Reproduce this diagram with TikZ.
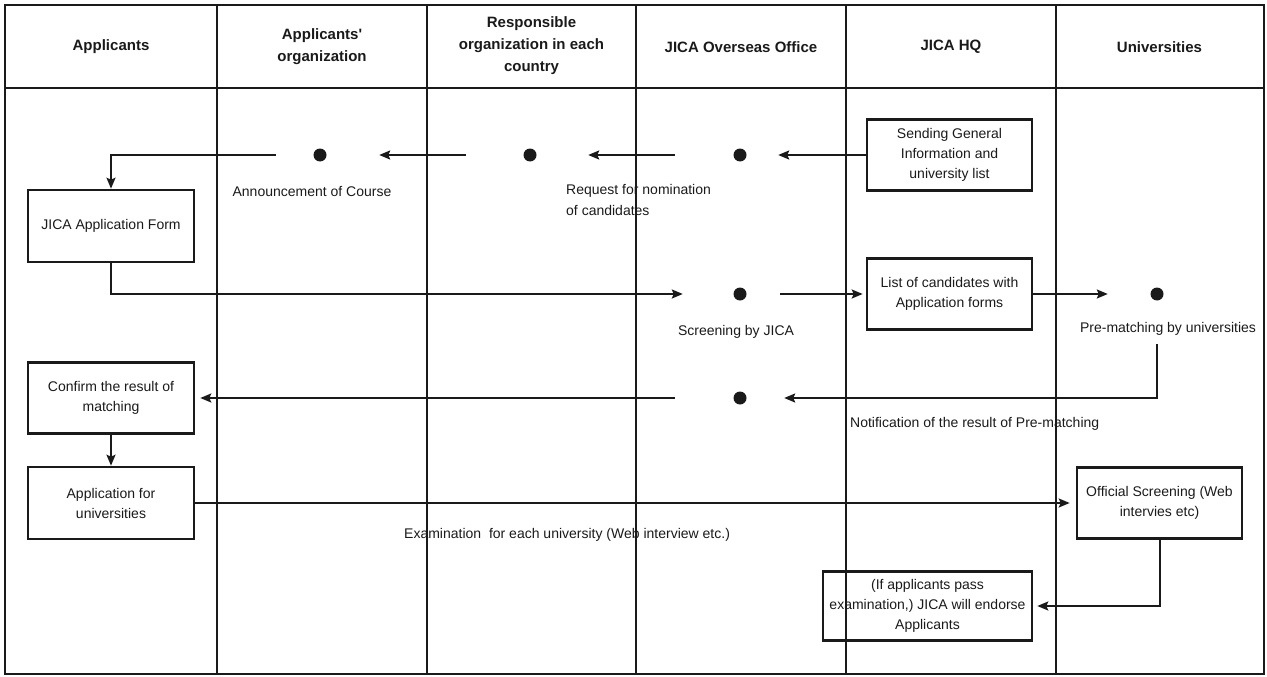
\documentclass[tikz,border=0pt]{standalone}
\usepackage{fontspec}
\setmainfont{Liberation Sans}[Ligatures=TeXOff]
\usetikzlibrary{arrows.meta}
\definecolor{ink}{HTML}{1A1A1A}
\begin{document}
\begin{tikzpicture}[x=1pt,y=-1pt,
  gridline/.style={draw=ink, line width=1.3pt},
  box/.style={draw=ink, line width=2.6pt, align=center, inner sep=0pt, text=ink,
    font=\fontsize{14}{20}\selectfont},
  dot/.style={circle, fill=ink, minimum size=13pt, inner sep=0pt},
  conn/.style={draw=ink, line width=2pt},
  arr/.style={conn, -{Stealth[length=11pt,width=9pt,inset=2pt]}},
  lbl/.style={inner sep=0pt, text=ink, font=\fontsize{14}{21}\selectfont},
  hdr/.style={align=center, text=ink, font=\bfseries\fontsize{15}{22}\selectfont}]
\useasboundingbox (0,0) rectangle (1267,677);
% grid
\draw[gridline] (5,5) rectangle (1264,674);
\draw[gridline] (5,88) -- (1264,88);
\foreach \xx in {217,427,636,846,1056} \draw[gridline] (\xx,5) -- (\xx,674);
% headers
\node[hdr] (h1) at (111,47) {Applicants};
\node[hdr] (h2) at (322,47) {Applicants'\\organization};
\node[hdr] (h3) at (531.5,46) {Responsible\\organization in each\\country};
\node[hdr] (h4) at (741,47) {JICA Overseas Office};
\node[hdr] (h5) at (951,47) {JICA HQ};
\node[hdr] (h6) at (1159.5,47) {Universities};
% boxes
\node[box, minimum width=165pt, minimum height=71pt] (sgi) at (949.5,155) {Sending General\\Information and\\university list};
\node[box, minimum width=166pt, minimum height=72pt] (appform) at (111,226) {JICA Application Form};
\node[box, minimum width=165pt, minimum height=71pt] (list) at (949.5,294) {List of candidates with\\Application forms};
\node[box, minimum width=166pt, minimum height=71pt] (confirm) at (111,398) {Confirm the result of\\matching};
\node[box, minimum width=166pt, minimum height=72pt] (appuni) at (111,503) {Application for\\universities};
\node[box, minimum width=165pt, minimum height=71pt] (official) at (1159.5,503) {Official Screening (Web\\intervies etc)};
\node[box, minimum width=209pt, minimum height=69pt] (endorse) at (927.5,606) {(If applicants pass\\examination,) JICA will endorse\\Applicants};
% dots
\node[dot] (d1) at (320,155) {};
\node[dot] (d2) at (530,155) {};
\node[dot] (d3) at (740,155) {};
\node[dot] (d4) at (740,294) {};
\node[dot] (d5) at (1157,294) {};
\node[dot] (d6) at (740,398) {};
% labels
\node[lbl] (lann) at (312,192) {Announcement of Course};
\node[lbl, align=left, anchor=north west] (lreq) at (566,184) {Request for nomination\\of candidates};
\node[lbl] (lscr) at (736,332) {Screening by JICA};
\node[lbl] (lpre) at (1168,329) {Pre-matching by universities};
\node[lbl, anchor=west] (lnot) at (850,424) {Notification of the result of Pre-matching};
\node[lbl, anchor=west] (lexa) at (404,535) {Examination\ \ for each university (Web interview etc.)};
\coordinate (pm) at (1157,344);
% connectors
\draw[arr, shorten >=31.5pt] (sgi.west) -- (d3.east);
\draw[arr, shorten <=58.5pt, shorten >=51.5pt] (d3.west) -- (d2.east);
\draw[arr, shorten <=57.5pt, shorten >=52.5pt] (d2.west) -- (d1.east);
\draw[arr, shorten <=37.5pt] (d1.west) -| (appform.north);
\draw[arr, shorten >=50.5pt] (appform.south) |- (d4.west);
\draw[arr, shorten <=33.5pt, shorten >=3pt] (d4.east) -- (list.west);
\draw[arr, shorten >=42.5pt] (list.east) -- (d5.west);
\draw[arr, shorten >=37.5pt] (pm) |- (d6.east);
\draw[arr, shorten <=58.5pt, shorten >=5pt] (d6.west) -- (confirm.east);
\draw[arr] (confirm.south) -- (appuni.north);
\draw[arr, shorten >=6pt] (appuni.east) -- (official.west);
\draw[arr, shorten >=4pt] (official.south) |- (endorse.east);
\end{tikzpicture}
\end{document}
